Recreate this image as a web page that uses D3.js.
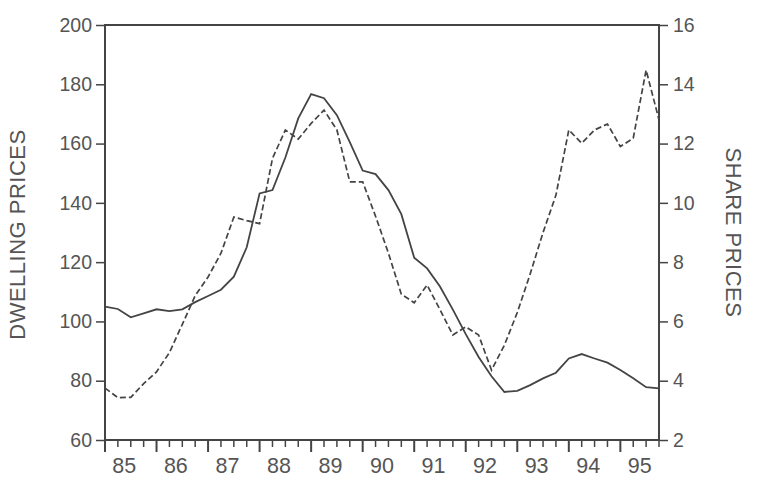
<!DOCTYPE html>
<html lang="en">
<head>
  <meta charset="utf-8">
  <script src="https://d3js.org/d3.v7.min.js"></script>
  <style>
    body { margin: 0; background: #fff; }
    text { font-family: "Liberation Sans", Arial, sans-serif; fill: #555; }
  </style>
</head>
<body>
  <script>
    // quarterly data, 1985Q1 .. 1995Q4
    var years = ["85", "86", "87", "88", "89", "90", "91", "92", "93", "94", "95"];

    var dwellingPrices = [105, 104.2, 101.4, 102.7, 104.1, 103.5, 104.1, 106.5, 108.6, 110.7,
      115.1, 125, 143.2, 144.3, 155.3, 168.5, 176.7, 175.3, 169.6, 160.5,
      150.9, 149.7, 144.3, 136.2, 121.5, 117.9, 111.8, 104, 95.7, 88,
      81.5, 76.2, 76.6, 78.5, 80.8, 82.7, 87.5, 89, 87.5, 86.1,
      83.6, 80.8, 77.8, 77.4];

    var sharePrices = [3.75, 3.43, 3.44, 3.9, 4.3, 4.95, 5.9, 6.87, 7.5, 8.3,
      9.52, 9.4, 9.3, 11.5, 12.46, 12.15, 12.68, 13.13, 12.46, 10.71,
      10.71, 9.55, 8.3, 6.92, 6.63, 7.23, 6.4, 5.54, 5.82, 5.54,
      4.36, 5.2, 6.3, 7.6, 9.0, 10.26, 12.46, 12.01, 12.46, 12.66,
      11.9, 12.18, 14.48, 12.8];

    var leftTicks = [60, 80, 100, 120, 140, 160, 180, 200];
    var rightTicks = [2, 4, 6, 8, 10, 12, 14, 16];

    var width = 764, height = 489;
    var plot = {left: 105, right: 659, top: 25, bottom: 440};
    var ink = "#444";

    var svg = d3.select("body").append("svg")
      .attr("width", width)
      .attr("height", height);

    var x = d3.scaleLinear().domain([0, dwellingPrices.length - 1]).range([plot.left, plot.right]);
    var yL = d3.scaleLinear().domain([60, 200]).range([plot.bottom, plot.top]);
    var yR = d3.scaleLinear().domain([2, 16]).range([plot.bottom, plot.top]);

    // left axis
    var leftAxis = svg.append("g")
      .attr("transform", "translate(" + plot.left + ",0)")
      .call(d3.axisLeft(yL).tickValues(leftTicks).tickSize(9).tickPadding(4));

    // right axis
    var rightAxis = svg.append("g")
      .attr("transform", "translate(" + plot.right + ",0)")
      .call(d3.axisRight(yR).tickValues(rightTicks).tickSize(9).tickPadding(5));

    [leftAxis, rightAxis].forEach(function(g) {
      g.select(".domain").remove();
      g.selectAll("line").attr("stroke", ink).attr("stroke-width", 1.5);
      g.selectAll("text")
        .style("font-size", "19.5px")
        .style("font-family", "'Liberation Sans', Arial, sans-serif")
        .attr("fill", "#555");
    });

    // bottom axis with quarterly ticks
    var quarterIdx = d3.range(0, dwellingPrices.length);
    svg.append("g").selectAll("line")
      .data(quarterIdx)
      .enter().append("line")
        .attr("x1", d => x(d))
        .attr("x2", d => x(d))
        .attr("y1", plot.bottom)
        .attr("y2", d => plot.bottom + (d % 4 === 0 ? 12 : 7))
        .attr("stroke", ink)
        .attr("stroke-width", d => d % 4 === 0 ? 2 : 1.5);

    svg.append("g").selectAll("text")
      .data(years)
      .enter().append("text")
        .attr("x", (d, i) => x(i * 4 + 1.5))
        .attr("y", 473)
        .attr("text-anchor", "middle")
        .style("font-size", "21.5px")
        .text(d => d);

    // frame
    svg.append("rect")
      .attr("x", plot.left)
      .attr("y", plot.top)
      .attr("width", plot.right - plot.left)
      .attr("height", plot.bottom - plot.top)
      .attr("fill", "none")
      .attr("stroke", ink)
      .attr("stroke-width", 2);

    // lines
    var lineL = d3.line().x((d, i) => x(i)).y(d => yL(d));
    var lineR = d3.line().x((d, i) => x(i)).y(d => yR(d));

    svg.append("path")
      .datum(sharePrices)
      .attr("d", lineR)
      .attr("fill", "none")
      .attr("stroke", ink)
      .attr("stroke-width", 1.7)
      .attr("stroke-dasharray", "6,3");

    svg.append("path")
      .datum(dwellingPrices)
      .attr("d", lineL)
      .attr("fill", "none")
      .attr("stroke", ink)
      .attr("stroke-width", 1.8);

    // axis titles
    var midY = (plot.top + plot.bottom) / 2;
    svg.append("text")
      .attr("transform", "translate(" + [25, midY + 2] + ") rotate(-90)")
      .attr("text-anchor", "middle")
      .style("font-size", "22px")
      .style("letter-spacing", "0.5px")
      .text("DWELLING PRICES");

    svg.append("text")
      .attr("transform", "translate(" + [726, midY] + ") rotate(90)")
      .attr("text-anchor", "middle")
      .style("font-size", "22px")
      .style("letter-spacing", "0.5px")
      .text("SHARE PRICES");
  </script>
</body>
</html>
